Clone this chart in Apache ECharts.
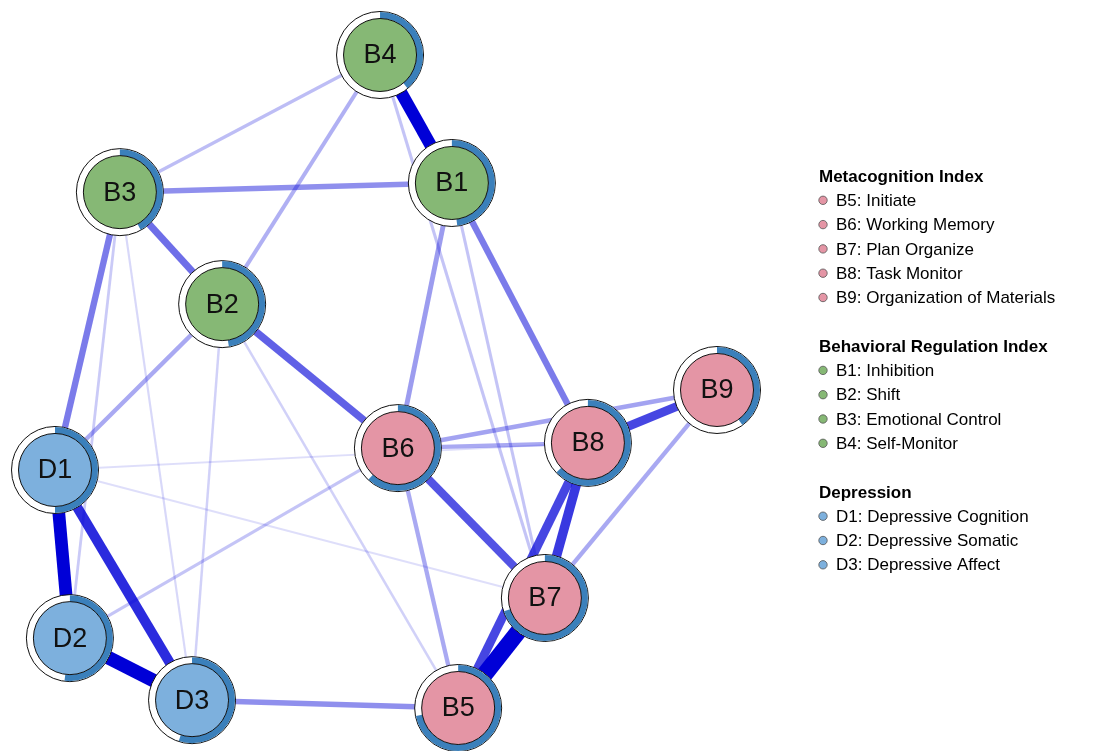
<!DOCTYPE html>
<html>
<head>
<meta charset="utf-8">
<title>Network of executive function and depression</title>
<script src="https://cdn.jsdelivr.net/npm/echarts@6/dist/echarts.min.js"></script>
<style>
  html, body { margin: 0; padding: 0; background: #ffffff; }
  #chart { width: 1097px; height: 751px; }
</style>
</head>
<body>
<div id="chart"></div>
<script>
// Nodes (layout coordinates in [-1, 1], y pointing up)
const nodeNames = ['B1', 'B2', 'B3', 'B4', 'B5', 'B6', 'B7', 'B8', 'B9', 'D1', 'D2', 'D3'];
const nodeX = [0.199, -0.495, -0.804, -0.018, 0.218, 0.036, 0.480, 0.610, 1.000, -1.000, -0.955, -0.586];
const nodeY = [0.608, 0.237, 0.580, 1.000, -1.000, -0.204, -0.663, -0.188, -0.026, -0.271, -0.786, -0.976];
// Predictability (share of explained variance) shown as the ring around each node
const predictability = [0.48, 0.475, 0.42, 0.39, 0.72, 0.62, 0.70, 0.63, 0.40, 0.50, 0.52, 0.55];
// 0 = Metacognition Index, 1 = Behavioral Regulation Index, 2 = Depression
const nodeGroup = [1, 1, 1, 1, 0, 0, 0, 0, 0, 2, 2, 2];

// Partial correlation edges
const edgeFrom = ['B7', 'D2', 'D1', 'B4', 'D1', 'B8', 'B8', 'B8', 'B6', 'B2', 'B3', 'B1', 'B3', 'B3', 'D3', 'B1', 'B6', 'B6', 'B6', 'B9', 'B2', 'B4', 'B4', 'B6', 'B4', 'B1', 'B3', 'B2', 'B2', 'B3', 'D1', 'D1'];
const edgeTo   = ['B5', 'D3', 'D2', 'B1', 'D3', 'B7', 'B5', 'B9', 'B7', 'B6', 'B2', 'B8', 'D1', 'B1', 'B5', 'B6', 'B9', 'B8', 'B5', 'B7', 'D1', 'B2', 'B3', 'D2', 'B7', 'B7', 'D2', 'D3', 'B5', 'D3', 'B7', 'B8'];
const edgeWeight = [0.52, 0.42, 0.39, 0.38, 0.30, 0.28, 0.26, 0.26, 0.24, 0.22, 0.20, 0.18, 0.18, 0.15, 0.15, 0.13, 0.12, 0.11, 0.11, 0.11, 0.11, 0.10, 0.08, 0.07, 0.07, 0.07, 0.06, 0.05, 0.05, 0.04, 0.03, 0.03];

// Legend content
const groupTitles = ['Metacognition Index', 'Behavioral Regulation Index', 'Depression'];
const groupItems = [
  ['B5: Initiate', 'B6: Working Memory', 'B7: Plan Organize', 'B8: Task Monitor', 'B9: Organization of Materials'],
  ['B1: Inhibition', 'B2: Shift', 'B3: Emotional Control', 'B4: Self-Monitor'],
  ['D1: Depressive Cognition', 'D2: Depressive Somatic', 'D3: Depressive Affect']
];

const groupColors = ['#E495A5', '#86B875', '#7DB0DD'];
const pieColor = '#3b80bb';
const FONT = '"Liberation Sans", Arial, sans-serif';

// Edge style: stronger edges are wider and more opaque
function edgeStyle(w) {
  const a = Math.min(1, 0.05 + w * 2.6);
  return { width: 1 + w * 30, color: 'rgba(0,0,215,' + a.toFixed(3) + ')', opacity: 1 };
}

const order = edgeWeight.map((w, i) => i).sort((a, b) => edgeWeight[a] - edgeWeight[b]);
const links = order.map(i => ({
  source: edgeFrom[i],
  target: edgeTo[i],
  value: edgeWeight[i],
  lineStyle: edgeStyle(edgeWeight[i])
}));

const graphNodes = nodeNames.map((n, i) => ({ name: n, value: [nodeX[i], nodeY[i]] }));
const nodeData = nodeNames.map((n, i) => ({ name: n, value: [nodeX[i], nodeY[i], predictability[i], nodeGroup[i]] }));

// Node drawing: white ring with predictability arc, coloured disc, label
function renderNode(params, api) {
  const p = api.coord([api.value(0), api.value(1)]);
  const pie = api.value(2);
  const g = api.value(3);
  const R = 43.5, Rin = 36.5;
  return {
    type: 'group',
    children: [
      { type: 'circle', shape: { cx: p[0], cy: p[1], r: R }, style: { fill: '#ffffff', stroke: '#111', lineWidth: 1 } },
      { type: 'sector', shape: { cx: p[0], cy: p[1], r0: Rin, r: R - 0.5, startAngle: -Math.PI / 2, endAngle: -Math.PI / 2 + 2 * Math.PI * pie, clockwise: true }, style: { fill: pieColor } },
      { type: 'circle', shape: { cx: p[0], cy: p[1], r: Rin }, style: { fill: groupColors[g], stroke: '#111', lineWidth: 1 } },
      { type: 'text', style: { text: nodeNames[params.dataIndex], x: p[0], y: p[1] + 1, fill: '#111', font: '27px ' + FONT, align: 'center', verticalAlign: 'middle' } }
    ]
  };
}

// Legend built as graphic elements
const legendEls = [];
const LX = 819, LY0 = 176, STEP = 24.3;
let line = 0;
groupTitles.forEach((t, gi) => {
  legendEls.push({ type: 'text', left: LX, top: LY0 + line * STEP - 7.5, style: { text: t, fill: '#000', font: 'bold 17px ' + FONT } });
  line++;
  groupItems[gi].forEach(item => {
    const y = LY0 + line * STEP;
    legendEls.push({ type: 'circle', shape: { cx: 823, cy: y, r: 4.2 }, style: { fill: groupColors[gi], stroke: '#555', lineWidth: 0.8 } });
    legendEls.push({ type: 'text', left: 836, top: y - 7.5, style: { text: item, fill: '#000', font: '17px ' + FONT } });
    line++;
  });
  line++;
});

const chart = echarts.init(document.getElementById('chart'), null, { renderer: 'canvas' });
chart.setOption({
  backgroundColor: '#ffffff',
  animation: false,
  grid: { left: 55, top: 55, width: 662, height: 653 },
  xAxis: { type: 'value', min: -1, max: 1, show: false },
  yAxis: { type: 'value', min: -1, max: 1, show: false },
  graphic: legendEls,
  series: [
    {
      type: 'graph',
      coordinateSystem: 'cartesian2d',
      layout: 'none',
      symbolSize: 1,
      itemStyle: { opacity: 0 },
      label: { show: false },
      silent: true,
      data: graphNodes,
      links: links,
      z: 1
    },
    {
      type: 'custom',
      coordinateSystem: 'cartesian2d',
      renderItem: renderNode,
      data: nodeData,
      silent: true,
      z: 5
    }
  ]
});
</script>
</body>
</html>
